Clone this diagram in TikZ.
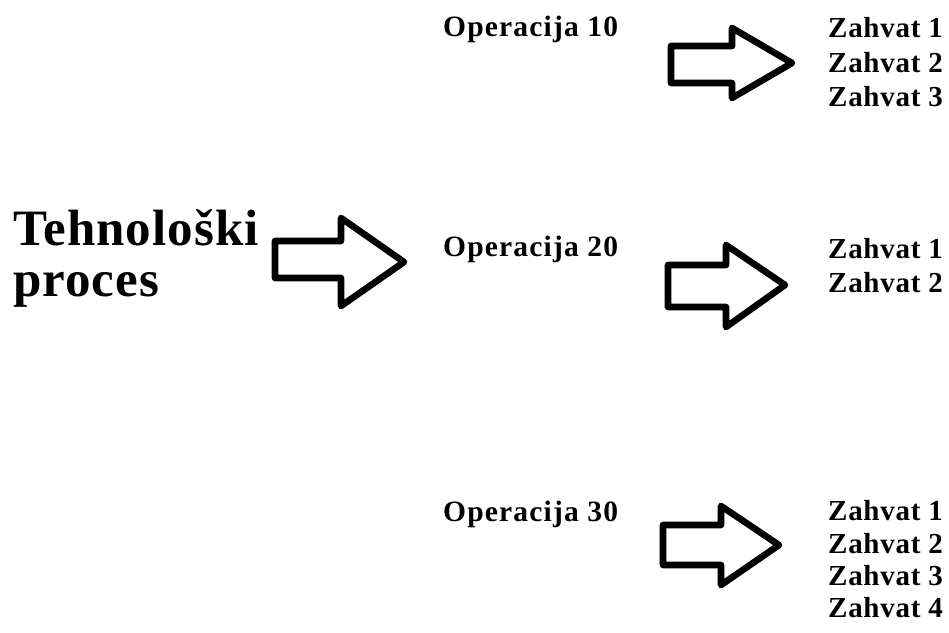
\documentclass[tikz,border=0pt]{standalone}
\usepackage{fontspec}
\setmainfont{Liberation Serif}
\begin{document}
\begin{tikzpicture}[x=1pt,y=-1pt,
  lbl/.style={anchor=base west,inner sep=0pt,font=\bfseries\fontsize{29}{34}\selectfont\addfontfeatures{LetterSpace=2.5}},
  oplbl/.style={anchor=base west,inner sep=0pt,font=\bfseries\fontsize{29.5}{34}\selectfont\addfontfeatures{LetterSpace=4}},
  big/.style={anchor=base west,inner sep=0pt,font=\bfseries\fontsize{51}{60}\selectfont\addfontfeatures{LetterSpace=2}},
  fatarrow/.style={draw=black,line width=6.6pt,line join=round,fill=white}]
\useasboundingbox (0,0) rectangle (949,632);
% main label
\node[big] (t1) at (13,245) {Tehnološki};
\node[big] (t2) at (13,296) {proces};
% operations
\node[oplbl] (op10) at (443,36) {Operacija 10};
\node[oplbl] (op20) at (443,256) {Operacija 20};
\node[oplbl] (op30) at (443,521) {Operacija 30};
% zahvati
\node[lbl] (z11) at (828,37) {Zahvat 1};
\node[lbl] (z12) at (828,72) {Zahvat 2};
\node[lbl] (z13) at (828,106) {Zahvat 3};
\node[lbl] (z21) at (828,258) {Zahvat 1};
\node[lbl] (z22) at (828,292) {Zahvat 2};
\node[lbl] (z31) at (828,520) {Zahvat 1};
\node[lbl] (z32) at (828,553) {Zahvat 2};
\node[lbl] (z33) at (828,585) {Zahvat 3};
\node[lbl] (z34) at (828,617) {Zahvat 4};
% block arrows
\draw[fatarrow] (275,241) -- (341,241) -- (341,218) -- (404,262) -- (341,306) -- (341,278) -- (275,278) -- cycle;
\draw[fatarrow] (671,46) -- (732,46) -- (732,28) -- (792,63) -- (732,98) -- (732,83) -- (671,83) -- cycle;
\draw[fatarrow] (668,265) -- (726,265) -- (726,245) -- (785,285) -- (726,327) -- (726,307) -- (668,307) -- cycle;
\draw[fatarrow] (663,525) -- (721,525) -- (721,506) -- (779,545) -- (721,585) -- (721,565) -- (663,565) -- cycle;
\end{tikzpicture}
\end{document}
